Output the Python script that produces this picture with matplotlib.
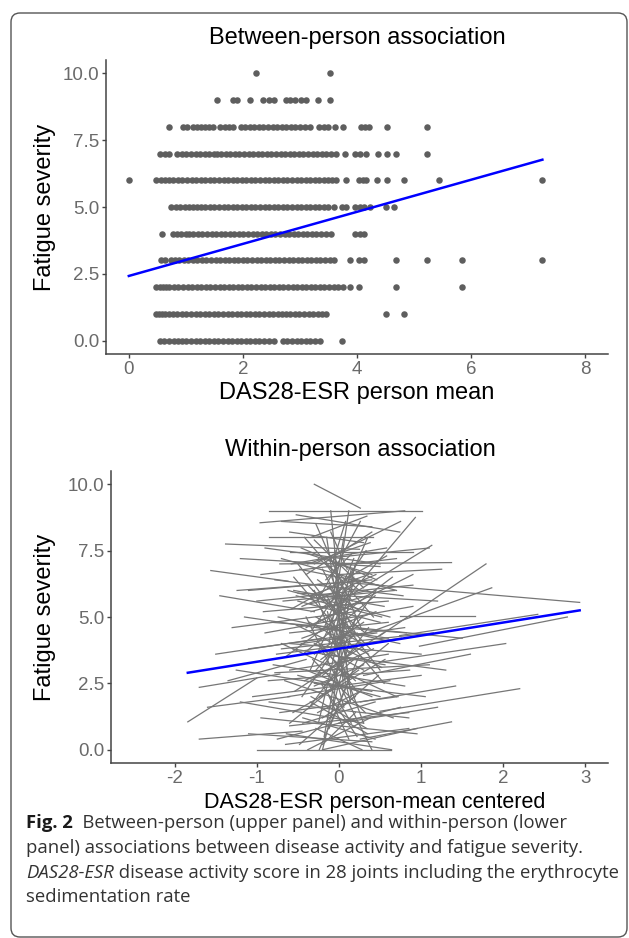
import matplotlib
matplotlib.use("Agg")
import matplotlib.pyplot as plt
from matplotlib.patches import FancyBboxPatch
from matplotlib.transforms import IdentityTransform

# ---- upper panel: DAS28-ESR person mean for each fatigue score ----
fatigue_levels = [0, 1, 2, 3, 4, 5, 6, 7, 8, 9, 10]

x_f0 = [0.55, 0.62, 0.71, 0.80, 0.86, 0.93, 1.01, 1.09, 1.17, 1.25, 1.33, 1.41, 1.49, 1.57,
        1.65, 1.73, 1.81, 1.89, 1.97, 2.05, 2.13, 2.21, 2.29, 2.37, 2.45, 2.54, 2.70, 2.78,
        2.86, 2.94, 3.02, 3.10, 3.18, 3.26, 3.35, 3.74]
x_f1 = [0.48, 0.53, 0.58, 0.64, 0.70, 0.77, 0.85, 0.93, 1.01, 1.09, 1.17, 1.25, 1.33, 1.41,
        1.49, 1.57, 1.65, 1.73, 1.81, 1.89, 1.97, 2.05, 2.13, 2.21, 2.29, 2.37, 2.45, 2.53,
        2.61, 2.69, 2.76, 2.82, 2.91, 2.99, 3.07, 3.15, 3.23, 3.31, 3.39, 3.45, 4.50, 4.83]
x_f2 = [0.48, 0.54, 0.60, 0.66, 0.71, 0.79, 0.87, 0.95, 1.03, 1.11, 1.19, 1.27, 1.35, 1.43,
        1.51, 1.59, 1.67, 1.75, 1.83, 1.91, 1.99, 2.07, 2.15, 2.23, 2.31, 2.39, 2.47, 2.55,
        2.63, 2.71, 2.79, 2.87, 2.95, 3.03, 3.11, 3.19, 3.27, 3.35, 3.43, 3.51, 3.59, 3.67,
        3.75, 3.87, 4.03, 4.68, 5.84]
x_f3 = [0.57, 0.64, 0.74, 0.81, 0.88, 0.96, 1.04, 1.12, 1.20, 1.28, 1.36, 1.44, 1.52, 1.60,
        1.68, 1.76, 1.84, 1.92, 2.00, 2.08, 2.16, 2.24, 2.32, 2.40, 2.48, 2.56, 2.64, 2.72,
        2.80, 2.88, 2.96, 3.04, 3.12, 3.20, 3.28, 3.36, 3.44, 3.52, 3.59, 3.87, 4.03, 4.12,
        4.68, 5.22, 5.84, 7.25]
x_f4 = [0.59, 0.78, 0.85, 0.92, 1.00, 1.06, 1.13, 1.21, 1.29, 1.37, 1.45, 1.53, 1.61, 1.69,
        1.77, 1.85, 1.93, 2.01, 2.09, 2.17, 2.25, 2.33, 2.41, 2.49, 2.57, 2.65, 2.73, 2.81,
        2.89, 2.97, 3.05, 3.13, 3.21, 3.29, 3.37, 3.45, 3.55, 3.97, 4.05, 4.12]
x_f5 = [0.74, 0.82, 0.90, 0.99, 1.06, 1.13, 1.20, 1.27, 1.34, 1.42, 1.50, 1.58, 1.66, 1.74,
        1.82, 1.90, 1.98, 2.06, 2.14, 2.22, 2.30, 2.38, 2.46, 2.54, 2.62, 2.70, 2.78, 2.86,
        2.94, 3.02, 3.10, 3.18, 3.26, 3.34, 3.42, 3.50, 3.59, 3.73, 3.81, 3.97, 4.05, 4.13,
        4.22, 4.50, 4.64]
x_f6 = [0.00, 0.48, 0.56, 0.64, 0.70, 0.78, 0.86, 0.94, 1.02, 1.10, 1.18, 1.26, 1.34, 1.42,
        1.50, 1.58, 1.66, 1.74, 1.82, 1.90, 1.98, 2.06, 2.14, 2.22, 2.30, 2.38, 2.46, 2.54,
        2.62, 2.70, 2.78, 2.86, 2.94, 3.02, 3.10, 3.18, 3.26, 3.34, 3.42, 3.50, 3.57, 3.64,
        3.80, 4.03, 4.10, 4.16, 4.35, 4.52, 4.83, 5.43, 7.25]
x_f7 = [0.55, 0.63, 0.71, 0.85, 0.93, 1.01, 1.09, 1.17, 1.25, 1.33, 1.41, 1.49, 1.55, 1.62,
        1.70, 1.78, 1.86, 1.94, 2.02, 2.10, 2.18, 2.26, 2.34, 2.42, 2.50, 2.58, 2.66, 2.74,
        2.82, 2.90, 2.98, 3.06, 3.14, 3.22, 3.30, 3.38, 3.46, 3.54, 3.64, 3.79, 3.96, 4.06,
        4.15, 4.36, 4.52, 4.68, 5.22]
x_f8 = [0.70, 0.95, 1.02, 1.12, 1.19, 1.26, 1.33, 1.40, 1.47, 1.59, 1.68, 1.76, 1.83, 1.97,
        2.04, 2.12, 2.20, 2.28, 2.36, 2.44, 2.52, 2.60, 2.68, 2.76, 2.84, 2.92, 3.00, 3.08,
        3.17, 3.34, 3.42, 3.50, 3.62, 3.75, 4.07, 4.14, 4.21, 4.52, 5.22]
x_f9 = [1.55, 1.82, 1.90, 2.13, 2.36, 2.45, 2.54, 2.75, 2.83, 2.92, 3.01, 3.10, 3.31, 3.53]
x_f10 = [2.23, 3.53]

between_fit_x = [0.0, 7.25]
between_fit_y = [2.42, 6.77]

# ---- lower panel: person-mean centered DAS28-ESR, one segment per person ----
seg_x0 = [-0.30, -0.85, -0.96, -0.52, -0.85, -1.38, -1.56, -1.24, -1.20, 0.93, 0.10, 1.79,
          1.86, 2.20, 2.03, 1.66, 1.37, 1.42, 2.42, 2.78, -1.84, -1.70, -1.00, -1.70,
          0.01, -0.72, -0.60,
          -0.25, -0.15, -0.30, -0.10, -0.35, -0.20, -0.40, -0.05, -0.45, -0.50, -0.12, -0.28,
          -0.60, -0.55, -0.18, -0.33, -0.08, -0.65, -0.42, -0.22, -0.70, -0.38, -0.15, -0.48,
          -0.26, -0.58, -0.10, -0.36, -0.20, -0.66, -0.30, -0.52, -0.14, -0.44, -0.24, -0.62,
          -0.06, -0.34, -0.56, -0.18, -0.46, -0.28, -0.74, -0.12, -0.40, -0.64, -0.22, -0.50,
          -0.16, -0.32, -0.70, -0.08, -0.44, -0.26, -0.60, -0.36, -0.20, -0.54, -0.12, -0.80,
          -0.90, -1.00, -0.85, -0.95, -1.10, -1.05, -0.75, -1.15, -0.90, -0.78, -1.25, -1.30,
          -0.95, -1.20, -0.60, -1.45, -1.35, -1.50, -1.60, -1.10, 0.90, 1.20, 1.00, 1.15,
          1.05, 0.85, 1.30, 1.25, 1.10, 1.50, 1.60, 0.95, 1.20, 0.75,
          -0.35, -0.25, -0.15, -0.45, -0.30, -0.20, -0.10, -0.40, -0.05, -0.55, -0.25, -0.35,
          -0.15, -0.45, -0.20, -0.30, -0.50, -0.10, -0.38, -0.28, -0.60, -0.18, -0.42, -0.08,
          -0.32, -0.22, -0.48, -0.12, -0.36, -0.26, -0.56, -0.16, -0.44, -0.06, -0.34, -0.24,
          -0.52, -0.14, -0.40, -0.30, -0.20, -0.62, -0.10, -0.46, -0.28, -0.18, -0.38, -0.58,
          -0.08, -0.34, -0.68, -0.72, -0.82, -0.78, -0.86, -0.76, -0.92, -0.65, -1.10, -0.70]
seg_y0 = [10.0, 9.0, 8.55, 8.85, 8.0, 7.75, 6.75, 6.0, 7.2, 8.75, 6.3, 7.0,
          6.1, 2.3, 4.0, 5.05, 1.05, 2.4, 5.1, 5.0, 1.05, 0.4, 0.0, 2.35,
          5.57, 7.0, 7.45,
          1.0, 8.0, 6.0, 9.0, 3.0, 0.0, 5.0, 7.5, 2.0, 7.0, 4.0, 8.5,
          1.0, 6.5, 0.5, 4.5, 1.5, 3.5, 8.0, 2.5, 4.0, 6.2, 3.2, 0.2,
          5.6, 5.3, 2.2, 1.6, 6.8, 2.6, 7.9, 4.7, 5.2, 3.6, 0.0, 6.0,
          6.0, 2.0, 1.4, 4.6, 7.6, 3.0, 5.0, 0.8, 6.6, 0.6, 4.0, 5.6,
          7.0, 3.4, 7.2, 3.6, 1.0, 6.4, 3.0, 5.8, 2.8, 2.2, 6.2, 3.2,
          4.4, 5.6, 1.8, 6.6, 3.8, 2.0, 0.4, 5.0, 7.6, 2.9, 3.0, 4.6,
          1.2, 1.8, 8.2, 5.8, 2.6, 3.6, 1.6, 0.6, 6.6, 5.6, 3.6, 4.4,
          2.0, 1.4, 3.0, 6.8, 7.6, 4.2, 3.6, 0.8, 1.6, 8.6,
          5.5, 4.8, 5.8, 4.2, 2.4, 1.2, 6.6, 3.0, 4.0, 6.0, 7.2, 1.8,
          2.6, 5.4, 3.8, 4.0, 2.8, 5.0, 7.0, 0.8, 4.4, 5.4, 2.6, 7.0,
          6.0, 3.4, 6.8, 2.0, 4.8, 1.4, 3.8, 6.4, 1.2, 3.0, 5.2, 2.0,
          5.8, 4.4, 7.4, 3.6, 0.2, 2.0, 8.2, 4.0, 5.0, 2.4, 0.0, 7.0,
          4.6, 8.0, 5.6, 1.4, 4.8, 6.4, 2.6, 3.6, 5.2, 0.2, 6.0, 8.6]
seg_x1 = [0.26, 1.01, 0.80, 0.74, 0.42, 0.25, -0.62, 0.05, 0.50, 0.01, 2.93, 0.50,
          0.26, 0.50, 0.50, 0.74, 0.26, 0.26, 0.74, 0.98, -1.00, -0.45, 0.63, -0.72,
          1.13, 1.37, 0.90,
          0.20, 0.15, 0.30, 0.10, 0.35, 0.20, 0.40, 0.05, 0.45, 0.50, 0.12, 0.28,
          0.60, 0.55, 0.18, 0.33, 0.08, 0.65, 0.42, 0.22, 0.70, 0.38, 0.15, 0.48,
          0.26, 0.58, 0.10, 0.36, 0.20, 0.66, 0.30, 0.52, 0.14, 0.44, 0.24, 0.62,
          0.06, 0.34, 0.56, 0.18, 0.46, 0.28, 0.74, 0.12, 0.40, 0.64, 0.22, 0.50,
          0.16, 0.32, 0.70, 0.08, 0.44, 0.26, 0.60, 0.36, 0.20, 0.54, 0.12, 0.80,
          0.90, 0.90, 0.85, 0.70, 0.80, 1.00, 0.75, 0.60, 0.50, 1.10, 0.40, 0.20,
          0.95, 0.30, 0.30, -0.30, -0.40, -0.20, -0.60, 0.40, -0.40, -0.50, -0.60, -0.70,
          -0.30, -0.60, -0.20, 0.00, -0.20, 0.20, 0.30, -0.20, 0.00, -0.30,
          0.35, 0.25, 0.15, 0.45, 0.30, 0.20, 0.10, 0.40, 0.05, 0.55, 0.25, 0.35,
          0.15, 0.45, 0.20, 0.30, 0.50, 0.10, 0.38, 0.28, 0.60, 0.18, 0.42, 0.08,
          0.32, 0.22, 0.48, 0.12, 0.36, 0.26, 0.56, 0.16, 0.44, 0.06, 0.34, 0.24,
          0.52, 0.14, 0.40, 0.30, 0.20, 0.62, 0.10, 0.46, 0.28, 0.18, 0.38, 0.58,
          0.08, 0.34, 0.68, 0.72, 0.82, 0.78, 0.86, 0.76, 0.60, 0.85, 0.40, 0.40]
seg_y1 = [9.1, 9.0, 9.0, 8.2, 8.0, 7.55, 6.35, 6.3, 6.9, 5.4, 5.55, 4.3,
          4.3, 1.45, 3.3, 5.05, 0.4, 1.8, 4.3, 3.9, 2.7, 0.7, 0.0, 2.85,
          7.7, 7.05, 7.45,
          7.0, 2.0, 1.0, 3.0, 8.0, 5.0, 0.0, 2.5, 6.0, 3.0, 9.0, 4.5,
          4.0, 2.5, 6.5, 7.5, 5.5, 6.5, 5.0, 0.5, 2.0, 3.8, 6.8, 2.8,
          8.6, 7.3, 4.2, 4.6, 4.4, 1.2, 6.1, 3.1, 1.8, 5.8, 3.5, 5.0,
          8.0, 0.8, 3.4, 7.2, 6.4, 5.0, 4.0, 2.6, 8.2, 0.0, 2.2, 4.8,
          5.6, 1.4, 6.0, 4.8, 1.8, 5.2, 3.6, 6.6, 3.8, 4.4, 4.6, 2.4,
          5.4, 6.2, 1.2, 7.2, 4.6, 2.8, 1.6, 4.2, 7.0, 3.2, 2.2, 5.2,
          0.6, 1.0, 7.8, 5.2, 3.4, 4.2, 2.0, 0.3, 4.6, 5.9, 4.0, 3.8,
          2.5, 0.9, 3.6, 6.6, 7.2, 4.6, 2.8, 0.0, 1.0, 7.0,
          6.0, 5.6, 4.2, 5.2, 3.2, 2.0, 5.0, 2.0, 6.0, 5.4, 6.0, 0.6,
          1.0, 6.6, 2.6, 3.0, 2.0, 3.4, 7.8, 0.0, 4.8, 6.2, 3.8, 8.6,
          4.4, 4.4, 6.2, 0.4, 3.6, 2.2, 3.2, 7.4, 0.4, 1.6, 5.8, 3.0,
          5.0, 3.6, 6.6, 4.8, 1.4, 2.6, 6.8, 4.4, 4.0, 3.4, 1.2, 7.6,
          5.8, 8.8, 6.0, 2.0, 4.4, 5.8, 3.0, 4.2, 5.6, 0.8, 6.4, 8.4]

within_fit_x = [-1.84, 2.93]
within_fit_y = [2.90, 5.25]

y_ticks = [0, 2.5, 5, 7.5, 10]
y_tick_labels = ["0.0", "2.5", "5.0", "7.5", "10.0"]
x_ticks_top = [0, 2, 4, 6, 8]
x_ticks_bottom = [-2, -1, 0, 1, 2, 3]

caption_lines = [
    ("Fig. 2", "  Between-person (upper panel) and within-person (lower"),
    ("", "panel) associations between disease activity and fatigue severity."),
    ("DAS28-ESR", " disease activity score in 28 joints including the erythrocyte"),
    ("", "sedimentation rate"),
]

W, H = 629, 938
plt.rcParams['font.family'] = ['Liberation Sans', 'DejaVu Sans']
plt.rcParams['axes.unicode_minus'] = False

fig = plt.figure(figsize=(W / 100, H / 100), dpi=100)


def fx(px):
    return px / W


def fy(py):
    return 1 - py / H


def style_axes(ax):
    for side in ['top', 'right']:
        ax.spines[side].set_visible(False)
    for side in ['left', 'bottom']:
        ax.spines[side].set_color('#444444')
        ax.spines[side].set_linewidth(1.1)
    ax.tick_params(length=3, width=1.0, color='#444444', labelcolor='#6a6a6a',
                   labelsize=13.5, pad=2)
    ax.set_yticks(y_ticks)
    ax.set_yticklabels(y_tick_labels)
    ax.set_ylim(-0.5, 10.5)


# upper panel
ax1 = fig.add_axes([fx(106), fy(354), 502 / W, 294 / H])
rows = [x_f0, x_f1, x_f2, x_f3, x_f4, x_f5, x_f6, x_f7, x_f8, x_f9, x_f10]
for level, xs in zip(fatigue_levels, rows):
    ax1.scatter(xs, [level] * len(xs), s=22, color='#5e5e5e', linewidths=0, zorder=2)
ax1.plot(between_fit_x, between_fit_y, color='#0000ff', lw=1.8, zorder=3)
ax1.set_xlim(-0.4, 8.4)
ax1.set_xticks(x_ticks_top)
style_axes(ax1)

# lower panel
ax2 = fig.add_axes([fx(111), fy(763), 497 / W, 292 / H])
for x0, y0, x1, y1 in zip(seg_x0, seg_y0, seg_x1, seg_y1):
    ax2.plot([x0, x1], [y0, y1], color='#767676', lw=0.9, zorder=2)
ax2.plot(within_fit_x, within_fit_y, color='#0000ff', lw=1.8, zorder=3)
ax2.set_xlim(-2.775, 3.275)
ax2.set_xticks(x_ticks_bottom)
style_axes(ax2)

# titles and axis labels
fig.text(fx(357), fy(38), "Between-person association", ha='center', va='center', fontsize=17)
fig.text(fx(357), fy(393), "DAS28-ESR person mean", ha='center', va='center', fontsize=17)
fig.text(fx(45), fy(207), "Fatigue severity", ha='center', va='center', rotation=90, fontsize=17)
fig.text(fx(360), fy(450), "Within-person association", ha='center', va='center', fontsize=17)
fig.text(fx(375), fy(802), "DAS28-ESR person-mean centered", ha='center', va='center', fontsize=15.5)
fig.text(fx(45), fy(617), "Fatigue severity", ha='center', va='center', rotation=90, fontsize=17)

# caption with bold / italic lead words
renderer = fig.canvas.get_renderer()
cap_y = [823, 848, 873, 897]
cap_font = ['Open Sans', 'DejaVu Sans']
for (lead, rest), py in zip(caption_lines, cap_y):
    x = 26
    if lead:
        if lead.startswith("Fig"):
            style = {'fontweight': 'bold', 'color': '#1a1a1a'}
        else:
            style = {'fontstyle': 'italic', 'color': '#333333'}
        t = fig.text(fx(x), fy(py), lead, ha='left', va='center', fontsize=13.3,
                     family=cap_font, **style)
        x = t.get_window_extent(renderer).x1
    fig.text(x / W, fy(py), rest, ha='left', va='center', fontsize=13.3,
             family=cap_font, color='#333333')

# rounded frame around the figure
frame = FancyBboxPatch((11, 1), 616, 924, boxstyle="round,pad=0,rounding_size=9",
                       transform=IdentityTransform(), facecolor='none',
                       edgecolor='#555555', lw=1.0)
fig.add_artist(frame)

fig.savefig("out.png", dpi=100)
